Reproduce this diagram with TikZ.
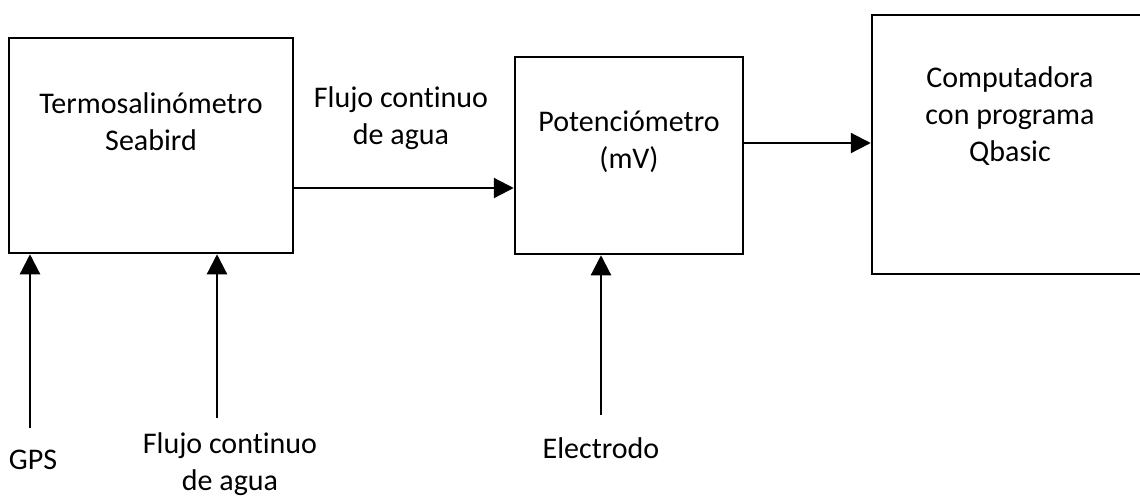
\documentclass[tikz,border=0pt]{standalone}
\usepackage{fontspec}
\setmainfont{Carlito}[Ligatures=NoCommon]
\usepackage{tikz}
\usetikzlibrary{positioning,arrows.meta,calc}

\begin{document}
\begin{tikzpicture}[x=0.4pt,y=-0.4pt,
      caja/.style={rectangle,draw=black,line width=1pt,inner sep=0pt},
      txt/.style={font=\fontsize{12}{14.8}\selectfont,align=center,inner sep=0pt},
      flecha/.style={-{Triangle[length=8pt,width=8pt]},line width=0.9pt}]
    \useasboundingbox (0,0) rectangle (1140,495);
    % bloques del sistema
    \node[caja,minimum width=113.4pt,minimum height=86pt] (termo) at (151,145.5) {};
    \node[caja,minimum width=91.2pt,minimum height=78.8pt] (poten) at (629,155.5) {};
    \node[caja,minimum width=110.4pt,minimum height=103.6pt] (compu) at (1010,144.5) {};
    % textos de los bloques
    \node[txt] (termoT) at (151,121.5) {Termosalin\'ometro\\Seabird};
    \node[txt] (potenT) at (629,141.5) {Potenci\'ometro\\(mV)};
    \node[txt] (compuT) at (1010,116) {Computadora\\con programa\\Qbasic};
    % conexiones entre bloques
    \draw[flecha] ([yshift=-17pt]termo.east) -- ([yshift=-17pt]termo.east -| poten.west);
    \node[txt] (flujoA) at (401,118.5) {Flujo continuo\\de agua};
    \draw[flecha] ([yshift=5pt]poten.east) -- ([yshift=5pt]poten.east -| compu.west);
    % entradas desde abajo
    \coordinate (gpsA) at (30,428);
    \coordinate (flujoB) at (217,418);
    \coordinate (elecA) at (601,415);
    \draw[flecha] (gpsA) -- (gpsA |- termo.south);
    \draw[flecha] (flujoB) -- (flujoB |- termo.south);
    \draw[flecha] (elecA) -- (elecA |- poten.south);
    \node[txt] (gps) at (33,460) {GPS};
    \node[txt] (flujoT) at (230,464) {Flujo continuo\\de agua};
    \node[txt] (elec) at (601,448) {Electrodo};
\end{tikzpicture}
\end{document}
